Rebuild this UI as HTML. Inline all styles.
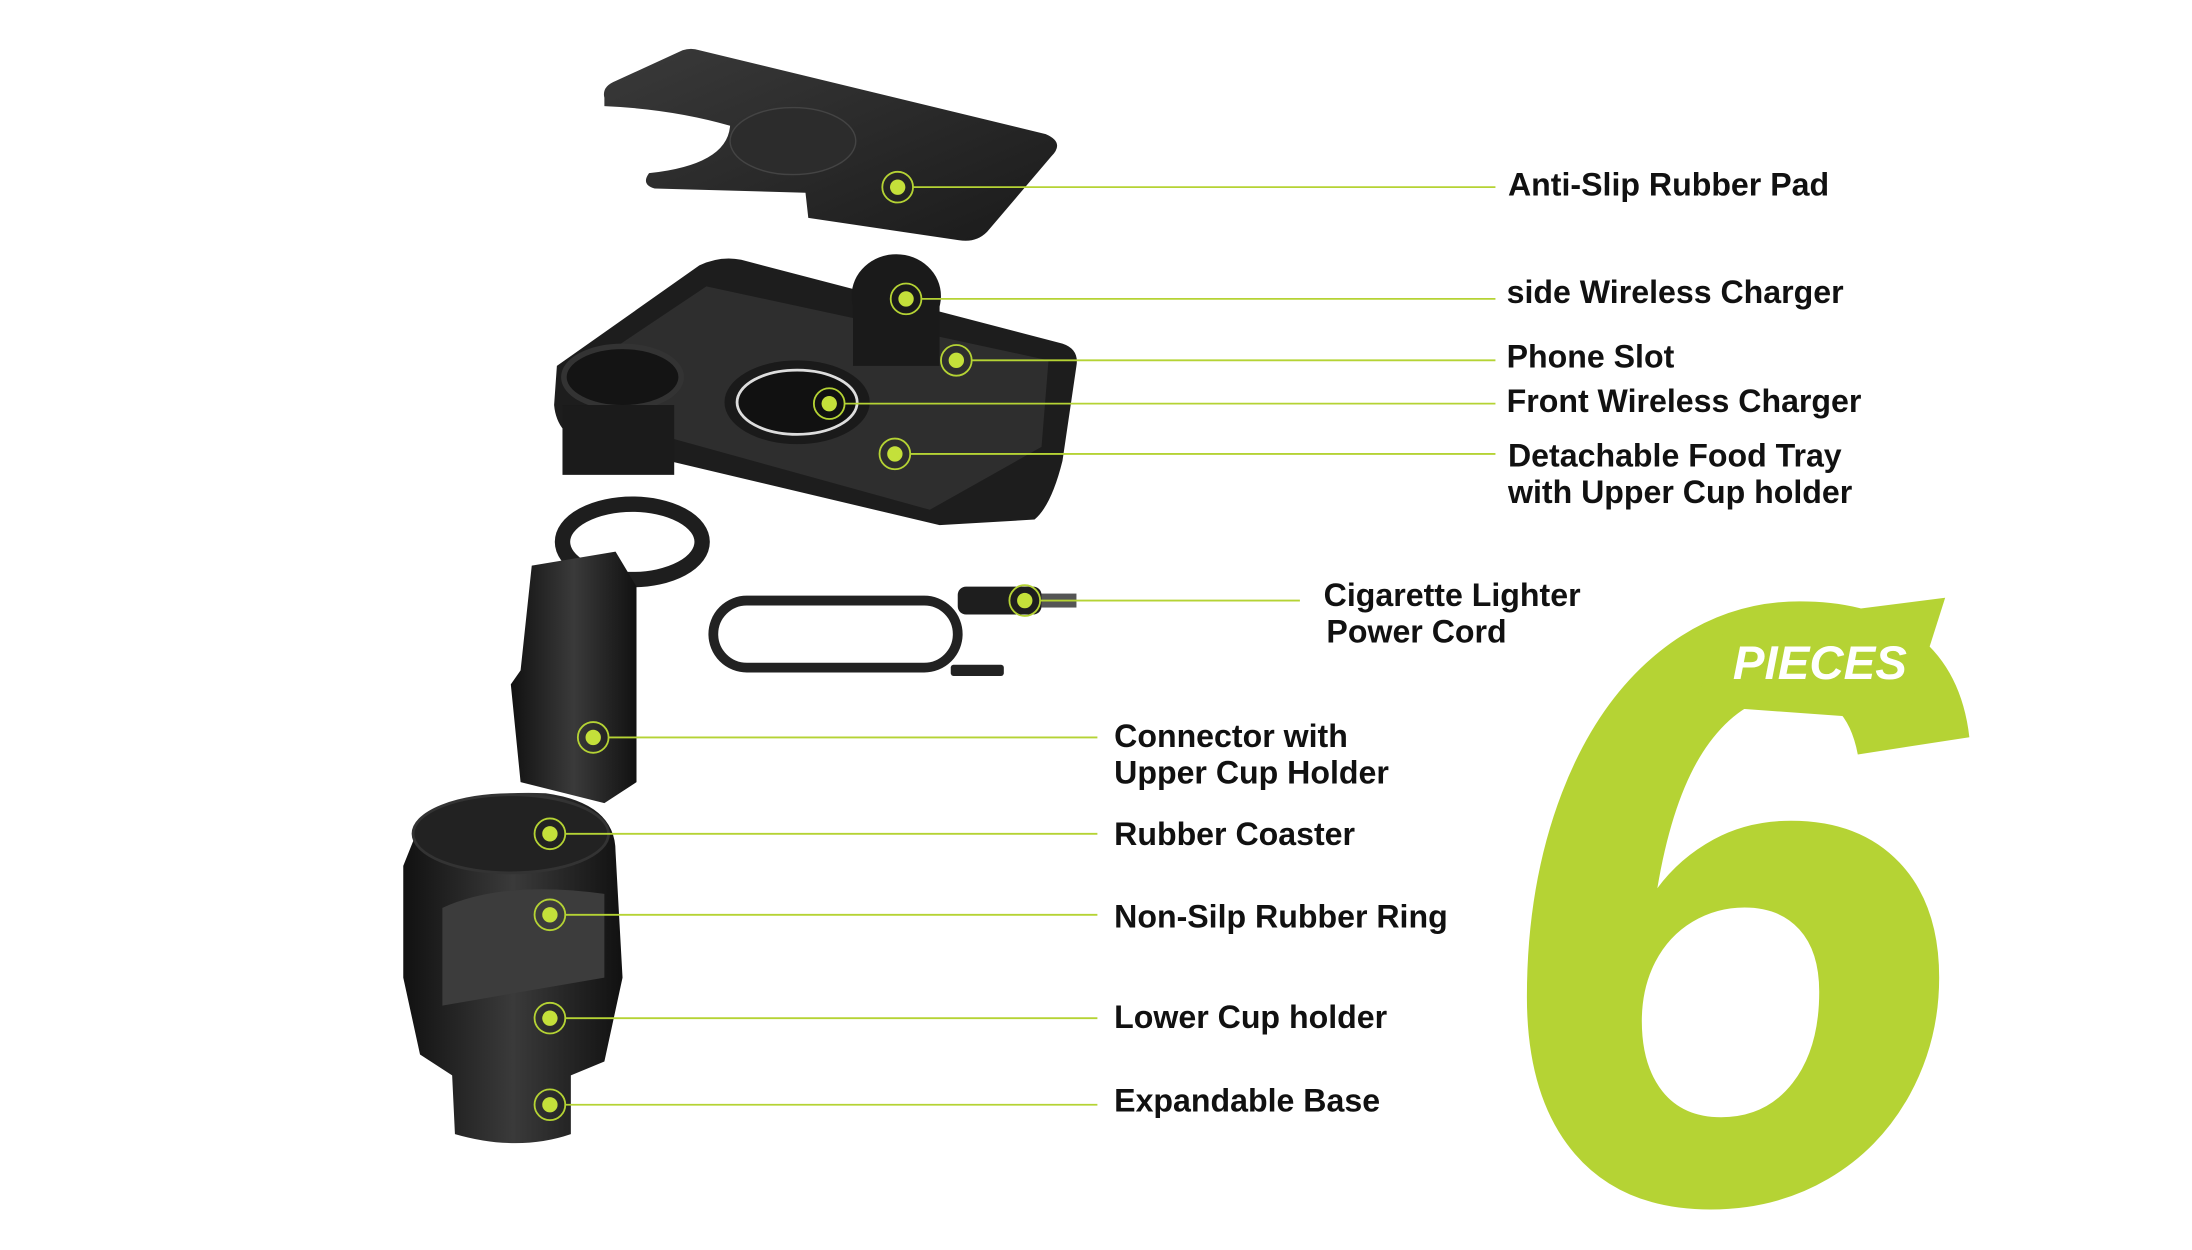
<!DOCTYPE html>
<html><head><meta charset="utf-8"><style>
html,body{margin:0;padding:0;background:#fff;width:2192px;height:1250px;overflow:hidden;}
svg{display:block}
.l{font-family:"Liberation Sans",sans-serif;font-weight:bold;font-size:23px;fill:#111;}
</style></head><body>
<svg width="2192" height="1250" viewBox="0 0 1568 895" xmlns="http://www.w3.org/2000/svg">
<defs>
<linearGradient id="g1" x1="0" y1="0" x2="1" y2="1"><stop offset="0" stop-color="#3a3a3a"/><stop offset="1" stop-color="#1a1a1a"/></linearGradient>
<linearGradient id="g2" x1="0" y1="0" x2="1" y2="0"><stop offset="0" stop-color="#111"/><stop offset="0.5" stop-color="#3a3a3a"/><stop offset="1" stop-color="#111"/></linearGradient>
</defs>
<!-- big 6 -->
<text x="1064" y="860" font-family="Liberation Sans,sans-serif" font-weight="bold" font-style="italic" font-size="615" fill="#b5d334">6</text>
<polygon points="1235,448 1392,428 1364,516 1212,505" fill="#b5d334"/>
<text x="1240" y="486" font-family="Liberation Sans,sans-serif" font-weight="bold" font-style="italic" font-size="34" fill="#fff">PIECES</text>

<!-- pad -->
<path d="M432,70 Q430,62 440,58 L488,36 Q494,34 500,36 L748,96 Q762,102 752,112 L706,166 Q698,174 686,172 L578,156 L576,138 L468,135 Q458,132 464,124 Q520,118 522,90 Q480,78 432,76 Z" fill="url(#g1)"/>
<ellipse cx="567" cy="101" rx="45" ry="24" fill="#2c2c2c" stroke="#444" stroke-width="1"/>
<!-- tray -->
<path d="M398,262 L500,190 Q515,183 530,186 L760,246 Q772,250 770,262 L760,330 Q752,362 740,372 L672,376 L478,330 L420,318 Q398,312 396,290 Z" fill="#1d1d1d"/>
<path d="M420,262 L505,205 L750,258 L745,320 L665,365 L430,300 Z" fill="#2e2e2e"/>
<ellipse cx="445" cy="270" rx="42" ry="22" fill="#141414" stroke="#333" stroke-width="4"/>
<rect x="402" y="290" width="80" height="50" fill="#1b1b1b"/>
<ellipse cx="570" cy="288" rx="52" ry="30" fill="#1a1a1a"/>
<ellipse cx="570" cy="288" rx="43" ry="23" fill="#111" stroke="#ddd" stroke-width="2"/>
<ellipse cx="641" cy="212" rx="32" ry="30" fill="#1a1a1a"/>
<rect x="610" y="212" width="62" height="50" fill="#1a1a1a"/>
<!-- connector -->
<ellipse cx="452" cy="388" rx="50" ry="27" fill="none" stroke="#1e1e1e" stroke-width="11"/>
<path d="M380,405 L440,395 L455,420 L455,560 L432,575 L372,560 L365,490 L372,480 Z" fill="url(#g2)"/>
<!-- cord -->
<rect x="510" y="430" width="175" height="48" rx="24" fill="none" stroke="#222" stroke-width="7"/>
<rect x="685" y="420" width="60" height="20" rx="6" fill="#1e1e1e"/>
<rect x="745" y="425" width="25" height="10" fill="#555"/>
<rect x="680" y="476" width="38" height="8" rx="2" fill="#222"/>
<!-- lower cup -->
<path d="M300,590 Q330,565 390,568 Q440,575 440,610 L445,700 L432,760 L408,770 L408,812 Q370,825 325,812 L323,770 L300,755 L288,700 L288,620 Z" fill="url(#g2)"/>
<ellipse cx="365" cy="597" rx="70" ry="28" fill="#222" stroke="#333" stroke-width="2"/>
<path d="M316,650 Q360,630 432,640 L432,700 L316,720 Z" fill="#3c3c3c"/>
<!-- lines & dots -->
<g stroke="#b5d334" stroke-width="1.3" fill="none">
<line x1="653" y1="134" x2="1070" y2="134"/>
<line x1="659" y1="214" x2="1070" y2="214"/>
<line x1="695" y1="258" x2="1070" y2="258"/>
<line x1="604" y1="289" x2="1070" y2="289"/>
<line x1="651" y1="325" x2="1070" y2="325"/>
<line x1="744" y1="430" x2="930" y2="430"/>
<line x1="435" y1="528" x2="785" y2="528"/>
<line x1="404" y1="597" x2="785" y2="597"/>
<line x1="404" y1="655" x2="785" y2="655"/>
<line x1="404" y1="729" x2="785" y2="729"/>
<line x1="404" y1="791" x2="785" y2="791"/>
</g>
<g fill="#c4e03a" stroke="none">
<circle cx="642" cy="134" r="5.5"/><circle cx="648" cy="214" r="5.5"/><circle cx="684" cy="258" r="5.5"/><circle cx="593" cy="289" r="5.5"/><circle cx="640" cy="325" r="5.5"/><circle cx="733" cy="430" r="5.5"/><circle cx="424" cy="528" r="5.5"/><circle cx="393" cy="597" r="5.5"/><circle cx="393" cy="655" r="5.5"/><circle cx="393" cy="729" r="5.5"/><circle cx="393" cy="791" r="5.5"/>
</g>
<g fill="none" stroke="#b5d334" stroke-width="1.3">
<circle cx="642" cy="134" r="11"/><circle cx="648" cy="214" r="11"/><circle cx="684" cy="258" r="11"/><circle cx="593" cy="289" r="11"/><circle cx="640" cy="325" r="11"/><circle cx="733" cy="430" r="11"/><circle cx="424" cy="528" r="11"/><circle cx="393" cy="597" r="11"/><circle cx="393" cy="655" r="11"/><circle cx="393" cy="729" r="11"/><circle cx="393" cy="791" r="11"/>
</g>
<!-- labels -->
<text class="l" x="1079" y="140">Anti-Slip Rubber Pad</text>
<text class="l" x="1078" y="217">side Wireless Charger</text>
<text class="l" x="1078" y="263">Phone Slot</text>
<text class="l" x="1078" y="295">Front Wireless Charger</text>
<text class="l" x="1079" y="334">Detachable Food Tray</text>
<text class="l" x="1079" y="360">with Upper Cup holder</text>
<text class="l" x="947" y="434">Cigarette Lighter</text>
<text class="l" x="949" y="460">Power Cord</text>
<text class="l" x="797" y="535">Connector with</text>
<text class="l" x="797" y="561">Upper Cup Holder</text>
<text class="l" x="797" y="605">Rubber Coaster</text>
<text class="l" x="797" y="664">Non-Silp Rubber Ring</text>
<text class="l" x="797" y="736">Lower Cup holder</text>
<text class="l" x="797" y="796">Expandable Base</text>
</svg>
</body></html>
